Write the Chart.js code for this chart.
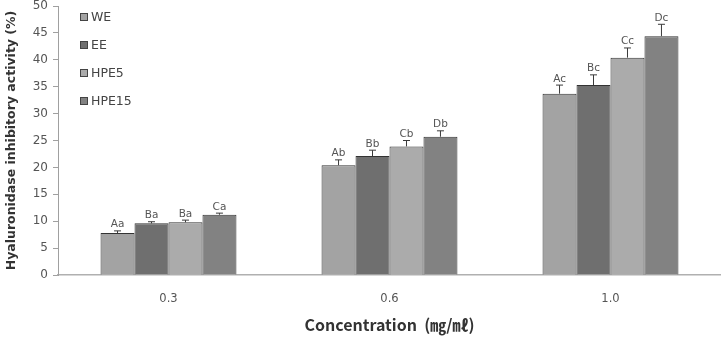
<!DOCTYPE html>
<html>
<head>
<meta charset="utf-8">
<script src="https://cdn.jsdelivr.net/npm/chart.js@4"></script>
<style>
  html, body { margin: 0; padding: 0; background: #fff; }
  #wrap { width: 721px; height: 339px; }
</style>
</head>
<body>
<div id="wrap"><canvas id="chart" width="721" height="339"></canvas></div>
<script>
// Chart data
const concentrations = ["0.3", "0.6", "1.0"];
const seriesNames = ["WE", "EE", "HPE5", "HPE15"];
const weValues = [7.8, 20.4, 33.7];
const eeValues = [9.6, 22.1, 35.3];
const hpe5Values = [9.8, 23.9, 40.4];
const hpe15Values = [11.2, 25.7, 44.4];
const weErrors = [0.4, 1.0, 1.6];
const eeErrors = [0.3, 1.1, 1.9];
const hpe5Errors = [0.4, 1.1, 1.8];
const hpe15Errors = [0.3, 1.1, 2.2];
const weLetters = ["Aa", "Ab", "Ac"];
const eeLetters = ["Ba", "Bb", "Bc"];
const hpe5Letters = ["Ba", "Cb", "Cc"];
const hpe15Letters = ["Ca", "Db", "Dc"];
const yTicks = [0, 5, 10, 15, 20, 25, 30, 35, 40, 45, 50];

const seriesColors = ["#a3a3a3", "#6f6f6f", "#ababab", "#828282"];
const valueSets = [weValues, eeValues, hpe5Values, hpe15Values];
const errorSets = [weErrors, eeErrors, hpe5Errors, hpe15Errors];
const letterSets = [weLetters, eeLetters, hpe5Letters, hpe15Letters];

// Error bars + significance letters
const errorBarPlugin = {
  id: "errorBars",
  afterDatasetsDraw(chart) {
    const ctx = chart.ctx;
    const yScale = chart.scales.y;
    ctx.save();
    chart.data.datasets.forEach((ds, di) => {
      const meta = chart.getDatasetMeta(di);
      meta.data.forEach((bar, i) => {
        const top = yScale.getPixelForValue(ds.data[i] + errorSets[di][i]);
        ctx.strokeStyle = "#3a3a3a";
        ctx.lineWidth = 1;
        ctx.beginPath();
        ctx.moveTo(bar.x, bar.y);
        ctx.lineTo(bar.x, top);
        ctx.moveTo(bar.x - 3.5, top);
        ctx.lineTo(bar.x + 3.5, top);
        ctx.stroke();
        ctx.fillStyle = "#555";
        ctx.font = "10.5px 'DejaVu Sans', sans-serif";
        ctx.textAlign = "center";
        ctx.textBaseline = "bottom";
        ctx.fillText(letterSets[di][i], bar.x, top - 1);
      });
    });
    ctx.restore();
  }
};

// Vertical legend inside the plot, top left
const insideLegendPlugin = {
  id: "insideLegend",
  afterDraw(chart) {
    const ctx = chart.ctx;
    const x = chart.chartArea.left + 22;
    const rows = [17, 45, 73, 101];
    ctx.save();
    chart.data.datasets.forEach((ds, di) => {
      const y = rows[di];
      ctx.fillStyle = ds.backgroundColor;
      ctx.fillRect(x, y - 4, 8, 8);
      ctx.strokeStyle = "#444";
      ctx.lineWidth = 1;
      ctx.strokeRect(x + 0.5, y - 3.5, 7, 7);
      ctx.fillStyle = "#444";
      ctx.font = "12.5px 'DejaVu Sans', sans-serif";
      ctx.textAlign = "left";
      ctx.textBaseline = "middle";
      ctx.fillText(ds.label, x + 11, y + 1);
    });
    ctx.restore();
  }
};

new Chart(document.getElementById("chart"), {
  type: "bar",
  data: {
    labels: concentrations,
    datasets: seriesNames.map((name, i) => ({
      label: name,
      data: valueSets[i],
      backgroundColor: seriesColors[i],
      borderColor: "#333",
      borderWidth: 1,
      barPercentage: 1.0,
      categoryPercentage: 0.615
    }))
  },
  options: {
    responsive: false,
    animation: false,
    layout: { padding: { top: 6, right: 0, left: 0, bottom: 0 } },
    plugins: {
      legend: { display: false },
      tooltip: { enabled: false }
    },
    scales: {
      x: {
        grid: { display: false },
        border: { display: true, color: "#b0b0b0", width: 1.5 },
        ticks: { color: "#555", font: { size: 11.5, family: "'DejaVu Sans', sans-serif" }, padding: 9 },
        title: {
          display: true,
          text: "Concentration  (㎎/㎖)",
          color: "#333",
          font: { size: 16, weight: "bold", family: "'Noto Sans CJK KR', 'DejaVu Sans', sans-serif" },
          padding: { top: 0 }
        },
        afterFit(scale) {
          scale.height = 64;
          scale.paddingLeft = 0;
          scale.paddingRight = 0;
        }
      },
      y: {
        min: 0,
        max: 50,
        afterBuildTicks(scale) { scale.ticks = yTicks.map(v => ({ value: v })); },
        grid: { drawOnChartArea: false, drawTicks: true, tickLength: 5, color: "#a0a0a0" },
        border: { display: true, color: "#a0a0a0" },
        ticks: { color: "#555", font: { size: 12, family: "'DejaVu Sans', sans-serif" }, padding: 5 },
        title: {
          display: true,
          text: "Hyaluronidase inhibitory activity (%)",
          color: "#333",
          font: { size: 12.5, weight: "bold", family: "'DejaVu Sans', sans-serif" },
          padding: { bottom: 2 }
        },
        afterFit(scale) {
          scale.width = 58;
          scale.paddingTop = 0;
          scale.paddingBottom = 0;
        }
      }
    }
  },
  plugins: [errorBarPlugin, insideLegendPlugin]
});
</script>
</body>
</html>
